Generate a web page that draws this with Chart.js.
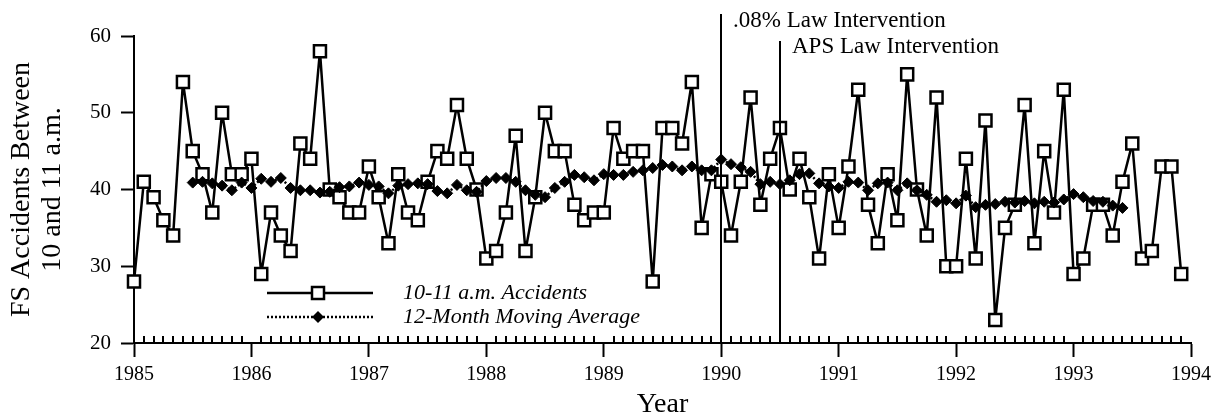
<!DOCTYPE html>
<html>
<head>
<meta charset="utf-8">
<script src="https://cdn.jsdelivr.net/npm/chart.js@4.4.1/dist/chart.umd.min.js"></script>
<style>
  html, body { margin: 0; padding: 0; background: #fff; }
  canvas { display: block; }
</style>
</head>
<body>
<canvas id="accChart" width="1218" height="416"></canvas>
<script>
// =================== DATA ===================
const START_YEAR = 1985;
const yearTicks = [1985, 1986, 1987, 1988, 1989, 1990, 1991, 1992, 1993, 1994];
const yTicks = [20, 30, 40, 50, 60];

// monthly FS accidents between 10 and 11 a.m., Jan 1985 - Dec 1993
const accidents = [
  28, 41, 39, 36, 34, 54, 45, 42, 37, 50, 42, 42,
  44, 29, 37, 34, 32, 46, 44, 58, 40, 39, 37, 37,
  43, 39, 33, 42, 37, 36, 41, 45, 44, 51, 44, 40,
  31, 32, 37, 47, 32, 39, 50, 45, 45, 38, 36, 37,
  37, 48, 44, 45, 45, 28, 48, 48, 46, 54, 35, 42,
  41, 34, 41, 52, 38, 44, 48, 40, 44, 39, 31, 42,
  35, 43, 53, 38, 33, 42, 36, 55, 40, 34, 52, 30,
  30, 44, 31, 49, 23, 35, 38, 51, 33, 45, 37, 53,
  29, 31, 38, 38, 34, 41, 46, 31, 32, 43, 43, 29
];

// 12-month moving average, first value sits at month index 6 (Jul 1985)
const MA_OFFSET = 6;
const movingAverage = [
  40.9, 41.0, 40.8, 40.5, 39.9, 40.9,
  40.2, 41.4, 41.0, 41.5, 40.2, 39.9, 39.9, 39.6, 39.7, 40.3, 40.4, 40.9,
  40.6, 40.4, 39.5, 40.5, 40.7, 40.8, 40.7, 39.8, 39.5, 40.6, 39.9, 39.7,
  41.1, 41.5, 41.5, 41.0, 39.9, 39.3, 39.0, 40.2, 41.0, 41.9, 41.6, 41.2,
  42.0, 41.9, 41.9, 42.3, 42.5, 42.8, 43.2, 43.0, 42.5, 43.0, 42.5, 42.5,
  43.9, 43.3, 42.9, 42.3, 40.7, 41.0, 40.7, 41.2, 42.0, 42.1, 40.8, 40.4,
  40.2, 41.0, 40.9, 39.9, 40.8, 40.9, 39.9, 40.8, 39.9, 39.3, 38.4, 38.6,
  38.2, 39.2, 37.7, 38.0, 38.1, 38.4, 38.3, 38.5, 38.2, 38.4, 38.3, 38.7,
  39.4, 39.0, 38.5, 38.4, 37.9, 37.6
];

const interventionYears = [1990, 1990.5];
const interventionLabels = [".08% Law Intervention", "APS Law Intervention"];

const seriesNames = ["10-11 a.m. Accidents", "12-Month Moving Average"];

// =================== HELPERS ===================
const SERIF = "'Liberation Serif', 'DejaVu Serif', serif";
const toMonthX = i => START_YEAR + i / 12;

// =================== OVERLAY (month ticks, interventions, legend) ===================
const overlay = {
  id: "overlay",
  afterDraw(chart) {
    const { ctx, chartArea, scales: { x } } = chart;
    ctx.save();
    ctx.strokeStyle = "#000";
    ctx.fillStyle = "#000";
    ctx.lineWidth = 2;

    // minor month ticks inside the axis
    const months = (yearTicks[yearTicks.length - 1] - START_YEAR) * 12;
    for (let m = 1; m < months; m++) {
      if (m % 12 === 0) continue;
      const px = Math.round(x.getPixelForValue(toMonthX(m)));
      ctx.beginPath();
      ctx.moveTo(px, chartArea.bottom);
      ctx.lineTo(px, chartArea.bottom - 7);
      ctx.stroke();
    }

    // intervention lines + labels
    const tops = [14, 41];
    const labelY = [21, 47];
    ctx.font = "23px " + SERIF;
    ctx.textBaseline = "middle";
    ctx.textAlign = "left";
    interventionYears.forEach((yr, k) => {
      const px = Math.round(x.getPixelForValue(yr));
      ctx.beginPath();
      ctx.moveTo(px, tops[k]);
      ctx.lineTo(px, chartArea.bottom);
      ctx.stroke();
      ctx.fillText(interventionLabels[k], px + 12, labelY[k]);
    });

    // legend
    ctx.lineWidth = 2.5;
    ctx.beginPath();
    ctx.moveTo(267, 293); ctx.lineTo(373, 293);
    ctx.stroke();
    ctx.fillStyle = "#fff";
    ctx.fillRect(312, 287, 12, 12);
    ctx.strokeRect(312, 287, 12, 12);

    ctx.setLineDash([2, 2]);
    ctx.beginPath();
    ctx.moveTo(267, 317); ctx.lineTo(373, 317);
    ctx.stroke();
    ctx.setLineDash([]);
    ctx.fillStyle = "#000";
    ctx.beginPath();
    ctx.moveTo(318, 311); ctx.lineTo(324, 317); ctx.lineTo(318, 323); ctx.lineTo(312, 317);
    ctx.closePath();
    ctx.fill();

    ctx.font = "italic 22px " + SERIF;
    ctx.fillText(seriesNames[0], 403, 293);
    ctx.fillText(seriesNames[1], 403, 317);
    ctx.restore();
  }
};

// =================== CHART ===================
new Chart(document.getElementById("accChart"), {
  type: "line",
  data: {
    datasets: [{
      label: seriesNames[1],
      data: movingAverage.map((v, i) => ({ x: toMonthX(i + MA_OFFSET), y: v })),
      borderColor: "#000",
      borderWidth: 2.5,
      borderDash: [2, 2],
      borderJoinStyle: "round",
      pointStyle: "rectRot",
      pointRadius: 5.5,
      pointBackgroundColor: "#000",
      pointBorderColor: "#000",
      pointBorderWidth: 1,
      tension: 0,
      clip: false
    }, {
      label: seriesNames[0],
      data: accidents.map((v, i) => ({ x: toMonthX(i), y: v })),
      borderColor: "#000",
      borderWidth: 2.5,
      borderJoinStyle: "round",
      pointStyle: "rect",
      pointRadius: 8.5,
      pointBackgroundColor: "#fff",
      pointBorderColor: "#000",
      pointBorderWidth: 2.5,
      tension: 0,
      clip: false
    }]
  },
  options: {
    responsive: false,
    animation: false,
    layout: { padding: { top: 36, right: 27, left: 0, bottom: 0 } },
    plugins: { legend: { display: false }, tooltip: { enabled: false } },
    scales: {
      x: {
        type: "linear",
        min: yearTicks[0],
        max: yearTicks[yearTicks.length - 1],
        afterBuildTicks: s => { s.ticks = yearTicks.map(v => ({ value: v })); },
        afterFit: s => { s.height = 73; },
        grid: { drawOnChartArea: false, tickLength: 14, tickWidth: 2, tickColor: "#000" },
        border: { color: "#000", width: 2 },
        ticks: {
          color: "#000", padding: 6, maxRotation: 0,
          font: { family: SERIF, size: 20 },
          callback: v => String(v)
        },
        title: {
          display: true, text: "Year", color: "#000",
          font: { family: SERIF, size: 28, lineHeight: 1 },
          padding: { top: 0, bottom: -3 }
        }
      },
      y: {
        min: yTicks[0],
        max: yTicks[yTicks.length - 1],
        afterBuildTicks: s => { s.ticks = yTicks.map(v => ({ value: v })); },
        afterFit: s => { s.width = 134; },
        grid: { drawOnChartArea: false, tickLength: 13, tickWidth: 2, tickColor: "#000" },
        border: { color: "#000", width: 2 },
        ticks: { color: "#000", padding: 10, font: { family: SERIF, size: 21 } },
        title: {
          display: true,
          text: ["FS Accidents Between", "10 and 11 a.m."],
          color: "#000",
          font: { family: SERIF, size: 28, lineHeight: 1.1 },
          padding: { top: 6, bottom: 0 }
        }
      }
    }
  },
  plugins: [overlay]
});
</script>
</body>
</html>
